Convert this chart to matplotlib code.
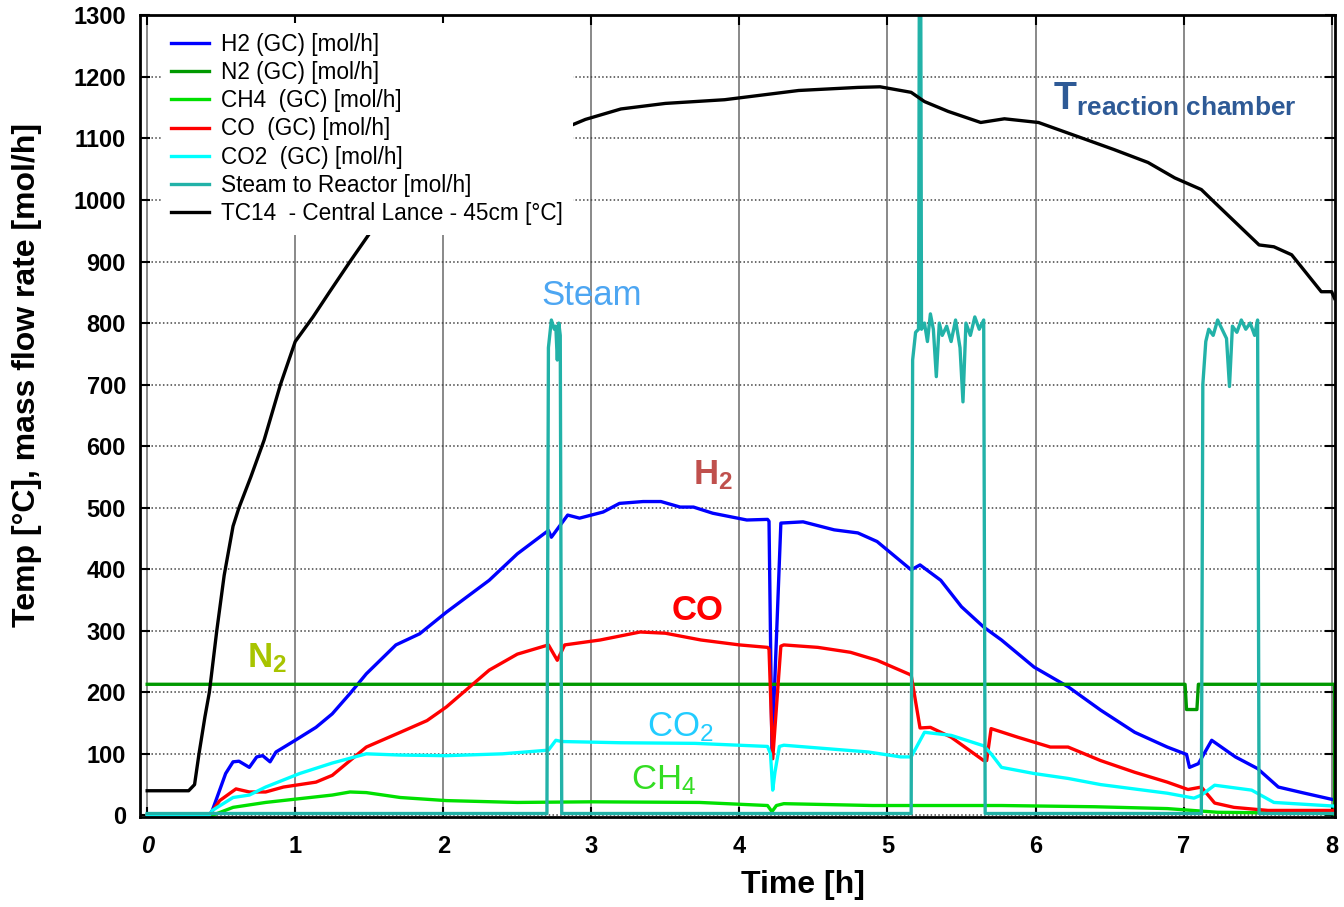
import numpy as np
import matplotlib
matplotlib.use("Agg")
import matplotlib.pyplot as plt

plt.rcParams['font.family'] = ['Liberation Sans', 'DejaVu Sans']
plt.rcParams['mathtext.fontset'] = 'custom'
plt.rcParams['mathtext.rm'] = 'Liberation Sans'
plt.rcParams['mathtext.it'] = 'Liberation Sans:italic'
plt.rcParams['mathtext.bf'] = 'Liberation Sans:bold'

# ---- data (time in h) ----
t_h2 = [0, 0.42, 0.44, 0.53, 0.58, 0.62, 0.69, 0.74, 0.78, 0.83, 0.87, 1.0, 1.14, 1.25, 1.37, 1.48,
        1.68, 1.84, 2.02, 2.31, 2.5, 2.71, 2.73, 2.84, 2.92, 3.08, 3.19, 3.35, 3.47, 3.60, 3.69, 3.82,
        4.05, 4.19, 4.20, 4.22, 4.28, 4.43, 4.64, 4.80, 4.93, 5.04, 5.16, 5.22, 5.36, 5.50, 5.65, 5.77,
        5.99, 6.22, 6.44, 6.67, 6.89, 7.02, 7.04, 7.10, 7.19, 7.35, 7.50, 7.64, 7.80, 8.02]
h2 = [0, 0, 8, 68, 87, 88, 78, 95, 97, 87, 103, 122, 143, 165, 198, 230,
      277, 295, 330, 382, 425, 463, 452, 488, 483, 493, 507, 510, 510, 501, 501, 491,
      480, 481, 478, 100, 475, 477, 464, 459, 445, 423, 399, 407, 382, 339, 306, 285,
      241, 209, 171, 135, 111, 99, 78, 84, 122, 95, 76, 46, 37, 25]

t_n2 = [0, 7.01, 7.02, 7.09, 7.10, 8.02, 8.02]
n2 = [213, 213, 172, 172, 213, 213, 0]

t_ch4 = [0, 0.44, 0.58, 0.80, 1.25, 1.37, 1.48, 1.71, 2.02, 2.5, 3.0, 3.73, 4.19, 4.22, 4.25, 4.30,
         4.9, 5.77, 6.4, 6.89, 7.23, 7.6, 8.02]
ch4 = [0, 0, 13, 21, 33, 38, 37, 29, 24, 21, 22, 21, 16, 6, 16, 19,
       16, 16, 14, 11, 5, 4, 3]

t_co = [0, 0.42, 0.49, 0.60, 0.69, 0.80, 0.92, 1.14, 1.25, 1.48, 1.71, 1.89, 2.02, 2.31, 2.50, 2.71,
        2.77, 2.82, 3.06, 3.33, 3.50, 3.74, 4.00, 4.19, 4.20, 4.225, 4.28, 4.30, 4.53, 4.75, 4.93, 5.16,
        5.22, 5.29, 5.43, 5.65, 5.67, 5.70, 5.88, 6.10, 6.22, 6.44, 6.67, 6.89, 7.03, 7.12, 7.21, 7.34,
        7.57, 8.02]
co = [0, 0, 24, 43, 38, 38, 46, 54, 65, 111, 135, 154, 176, 236, 262, 277,
      252, 277, 285, 298, 296, 285, 277, 273, 270, 92, 275, 277, 273, 265, 252, 228,
      142, 143, 127, 89, 89, 141, 127, 111, 111, 89, 70, 54, 42, 46, 20, 13,
      8, 8]

t_co2 = [0, 0.42, 0.44, 0.58, 0.69, 0.80, 1.03, 1.25, 1.48, 1.71, 2.02, 2.40, 2.71, 2.76, 2.80, 3.2,
         3.7, 4.19, 4.21, 4.225, 4.24, 4.27, 4.30, 4.87, 5.09, 5.16, 5.25, 5.43, 5.65, 5.70, 5.77, 5.99,
         6.22, 6.44, 6.89, 7.07, 7.12, 7.21, 7.46, 7.61, 8.02]
co2 = [0, 0, 8, 29, 33, 46, 68, 85, 100, 98, 97, 100, 106, 122, 120, 118,
       117, 112, 100, 41, 70, 112, 114, 103, 95, 95, 135, 130, 113, 100, 78, 68,
       60, 50, 36, 28, 33, 49, 41, 21, 15]

t_steam = [0, 2.70, 2.71, 2.73, 2.75, 2.76, 2.77, 2.78, 2.79, 2.80, 5.16, 5.17, 5.19, 5.21, 5.215, 5.225,
           5.23, 5.25, 5.27, 5.29, 5.31, 5.33, 5.35, 5.37, 5.40, 5.43, 5.46, 5.49, 5.51, 5.53, 5.56, 5.59,
           5.62, 5.65, 5.66, 7.12, 7.13, 7.15, 7.17, 7.20, 7.23, 7.26, 7.29, 7.31, 7.33, 7.36, 7.39, 7.42,
           7.45, 7.48, 7.50, 7.51, 8.02]
steam = [3, 3, 760, 805, 790, 795, 740, 800, 780, 3, 3, 740, 785, 790, 1320, 1320,
         790, 800, 770, 815, 790, 713, 800, 780, 795, 770, 805, 760, 672, 800, 780, 810,
         790, 805, 3, 3, 700, 770, 790, 780, 805, 790, 775, 697, 795, 785, 805, 790,
         800, 780, 805, 3, 3]

t_tc = [0, 0.28, 0.32, 0.35, 0.39, 0.42, 0.47, 0.52, 0.58, 0.62, 0.70, 0.79, 0.90, 1.0, 1.12, 1.23,
        1.37, 1.5, 1.67, 1.9, 2.2, 2.5, 2.8, 2.96, 3.2, 3.5, 3.9, 4.4, 4.8, 4.95, 5.16, 5.25,
        5.41, 5.63, 5.79, 6.02, 6.31, 6.53, 6.76, 6.94, 7.12, 7.21, 7.51, 7.61, 7.73, 7.93, 8.0, 8.02]
tc14 = [40, 40, 50, 100, 160, 200, 300, 390, 470, 500, 550, 610, 700, 770, 810, 850,
        900, 945, 975, 1020, 1060, 1090, 1115, 1131, 1148, 1157, 1163, 1178, 1183, 1184, 1175, 1160,
        1144, 1126, 1132, 1126, 1101, 1082, 1061, 1036, 1017, 996, 927, 924, 911, 851, 851, 840]

fig = plt.figure(figsize=(13.44, 9.07), dpi=100)
ax = fig.add_axes([0.104, 0.099, 0.889, 0.884])

lw = 2.4
ax.plot(t_h2, h2, color='#0000FF', lw=lw, label='H2 (GC) [mol/h]')
ax.plot(t_n2, n2, color='#009900', lw=lw, label='N2 (GC) [mol/h]')
ax.plot(t_ch4, ch4, color='#00E000', lw=lw, label='CH4  (GC) [mol/h]')
ax.plot(t_co, co, color='#FF0000', lw=lw, label='CO  (GC) [mol/h]')
ax.plot(t_co2, co2, color='#00FFFF', lw=lw, label='CO2  (GC) [mol/h]')
ax.plot(t_steam, steam, color='#22B2A8', lw=lw, label='Steam to Reactor [mol/h]')
ax.plot(t_tc, tc14, color='black', lw=lw, label='TC14  - Central Lance - 45cm [°C]')

ax.set_xlim(-0.05, 8.02)
ax.set_ylim(-3, 1300)
ax.set_xticks(range(9))
ax.set_yticks(range(0, 1301, 100))
ax.tick_params(direction='in', length=7, width=1.5, top=True, right=True, labelsize=17)
ax.tick_params(axis='x', pad=13)
ax.tick_params(axis='y', pad=10)
for lab in ax.get_xticklabels() + ax.get_yticklabels():
    lab.set_fontweight('bold')
ax.get_xticklabels()[0].set_style('italic')

ax.yaxis.grid(True, color='#444444', linestyle=(0, (1, 1.5)), lw=1.1)
ax.xaxis.grid(True, color='#808080', linestyle='-', lw=1.3)
ax.set_axisbelow(True)
for s in ax.spines.values():
    s.set_linewidth(2)

ax.set_xlabel('Time [h]', fontsize=23, fontweight='bold')
ax.xaxis.set_label_coords(0.555, -0.066)
ax.set_ylabel('Temp [°C], mass flow rate [mol/h]', fontsize=23, fontweight='bold')
ax.yaxis.set_label_coords(-0.082, 0.551)

leg = ax.legend(loc='upper left', bbox_to_anchor=(0.0176, 0.991), fontsize=16.3, frameon=True,
                facecolor='white', edgecolor='none', framealpha=1, handlelength=1.68,
                handletextpad=0.53, labelspacing=0.23, borderpad=0.45, borderaxespad=0)

# curve annotations
ax.text(3.0, 845, 'Steam', color='#4DA6F2', fontsize=25, ha='center', va='center')
ax.text(3.82, 553, r'$\mathbf{H_2}$', color='#C0504D', fontsize=25, ha='center', va='center')
ax.text(3.72, 333, 'CO', color='#FF0000', fontsize=25, fontweight='bold', ha='center', va='center')
ax.text(0.81, 255, r'$\mathbf{N_2}$', color='#A8C400', fontsize=25, ha='center', va='center')
ax.text(3.6, 143, r'CO$_2$', color='#22CCFF', fontsize=25, ha='center', va='center')
ax.text(3.49, 57, r'CH$_4$', color='#33DD22', fontsize=25, ha='center', va='center')
ax.text(6.94, 1163, r'$\mathbf{T}_{\mathbf{reaction\ chamber}}$', color='#2E5A96', fontsize=27,
        ha='center', va='center')

fig.savefig('out.png', dpi=100)
